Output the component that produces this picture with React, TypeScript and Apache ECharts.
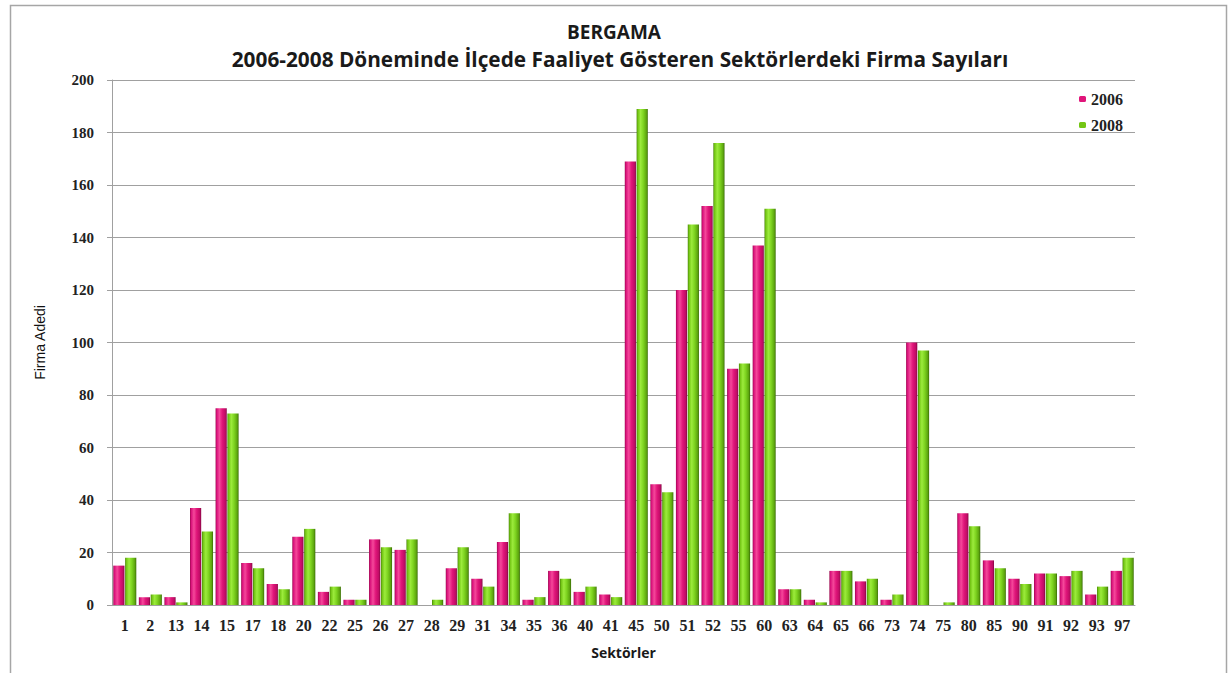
import React, { useEffect, useRef } from "react";
import * as echarts from "echarts";

const categories = ["1","2","13","14","15","17","18","20","22","25","26","27","28","29","31","34","35","36","40","41","45","50","51","52","55","60","63","64","65","66","73","74","75","80","85","90","91","92","93","97"];
const values2006 = [15,3,3,37,75,16,8,26,5,2,25,21,0,14,10,24,2,13,5,4,169,46,120,152,90,137,6,2,13,9,2,100,0,35,17,10,12,11,4,13];
const values2008 = [18,4,1,28,73,14,6,29,7,2,22,25,2,22,7,35,3,10,7,3,189,43,145,176,92,151,6,1,13,10,4,97,1,30,14,8,12,13,7,18];
const seriesNames = ["2006", "2008"];
const titleText = "BERGAMA";
const subtitleText = "2006-2008 Döneminde İlçede Faaliyet Gösteren Sektörlerdeki Firma Sayıları";
const xAxisName = "Sektörler";
const yAxisName = "Firma Adedi";

const serif = "'Liberation Serif', 'DejaVu Serif', serif";
const sans = "'Open Sans', 'Noto Sans', sans-serif";

function grad(stops: [number, string][]) {
  return new echarts.graphic.LinearGradient(0, 0, 1, 0, stops.map(([offset, color]) => ({ offset, color })));
}

const pinkFill = grad([
  [0, "#96064A"],
  [0.1, "#D8107A"],
  [0.35, "#F4489A"],
  [0.6, "#E0157A"],
  [0.88, "#BE0C64"],
  [1, "#800540"],
]);
const greenFill = grad([
  [0, "#457E06"],
  [0.1, "#70C212"],
  [0.35, "#9CEB3C"],
  [0.6, "#7ED420"],
  [0.88, "#5CA40E"],
  [1, "#386A05"],
]);

export default function App() {
  const ref = useRef<HTMLDivElement>(null);
  useEffect(() => {
    if (!ref.current) return;
    const chart = echarts.init(ref.current, undefined, { renderer: "svg" });
    chart.setOption({
      animation: false,
      backgroundColor: "#ffffff",
      graphic: [
        {
          type: "rect",
          shape: { x: 10.5, y: 5.5, width: 1216, height: 700 },
          style: { fill: "none", stroke: "#A6A6A6", lineWidth: 1.5 },
          silent: true,
          z: -1,
        },
      ],
      title: [
        {
          text: titleText,
          left: 609,
          textAlign: "center",
          top: 17,
          textStyle: { fontFamily: sans, fontWeight: "bold", fontSize: 19, color: "#1a1a1a" },
        },
        {
          text: subtitleText,
          left: 615,
          textAlign: "center",
          top: 43,
          textStyle: { fontFamily: sans, fontWeight: "bold", fontSize: 20.8, color: "#1a1a1a" },
        },
      ],
      legend: {
        orient: "vertical",
        right: 104,
        top: 86,
        itemWidth: 7,
        itemHeight: 6,
        itemGap: 10,
        data: [
          { name: seriesNames[0], itemStyle: { color: "#E0157A" } },
          { name: seriesNames[1], itemStyle: { color: "#74C614" } },
        ],
        textStyle: { fontFamily: serif, fontWeight: "bold", fontSize: 16, color: "#222" },
      },
      grid: { left: 112, right: 97, top: 80, bottom: 68, containLabel: false },
      xAxis: {
        type: "category",
        data: categories,
        name: xAxisName,
        nameLocation: "middle",
        nameGap: 40,
        nameTextStyle: { fontFamily: sans, fontWeight: "bold", fontSize: 14, color: "#1a1a1a" },
        axisLine: { lineStyle: { color: "#A0A0A0", width: 1 } },
        axisTick: { show: false },
        axisLabel: {
          interval: 0,
          margin: 12,
          fontFamily: serif,
          fontWeight: "bold",
          fontSize: 16,
          color: "#222",
        },
      },
      yAxis: {
        type: "value",
        min: 0,
        max: 200,
        interval: 20,
        name: yAxisName,
        nameLocation: "middle",
        nameGap: 65,
        nameRotate: 90,
        nameTextStyle: { fontFamily: "'Liberation Sans Narrow', sans-serif", fontSize: 14, color: "#111" },
        axisLine: { show: true, lineStyle: { color: "#A0A0A0", width: 1 } },
        axisTick: { show: true, length: 5, lineStyle: { color: "#A0A0A0" } },
        axisLabel: {
          margin: 18,
          fontFamily: serif,
          fontWeight: "bold",
          fontSize: 15,
          color: "#222",
        },
        splitLine: { show: true, lineStyle: { color: "#A0A0A0", width: 1 } },
      },
      series: [
        {
          name: seriesNames[0],
          type: "bar",
          data: values2006,
          barGap: "6%",
          barCategoryGap: "10%",
          itemStyle: { color: pinkFill },
        },
        {
          name: seriesNames[1],
          type: "bar",
          data: values2008,
          barGap: "6%",
          barCategoryGap: "10%",
          itemStyle: { color: greenFill },
        },
      ],
    });
    return () => chart.dispose();
  }, []);
  return (
    <div
      ref={ref}
      style={{ position: "absolute", left: 0, top: 0, width: 1232, height: 673 }}
    />
  );
}
